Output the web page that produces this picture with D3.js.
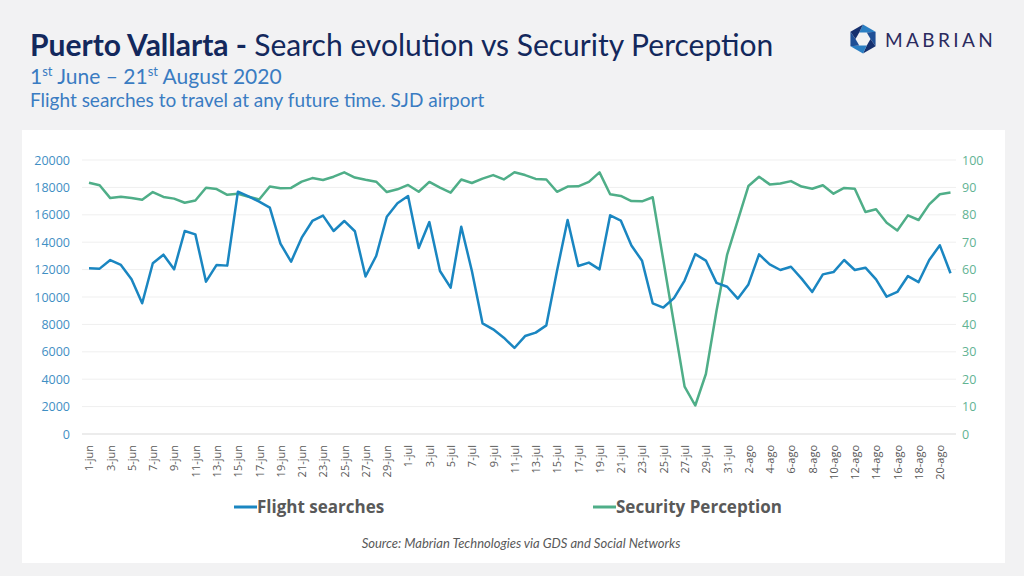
<!DOCTYPE html>
<html>
<head>
<meta charset="utf-8">
<script src="https://cdn.jsdelivr.net/npm/d3@7"></script>
<style>
  html, body { margin: 0; padding: 0; background: #f2f2f3; }
  svg { display: block; }
</style>
</head>
<body>
<div id="chart"></div>
<script>
// Day labels, 1 June - 21 August 2020 (Spanish month abbreviations)
const monthNames = ["jun", "jul", "ago"]
const monthDays = [30, 31, 21]
const days = []
monthDays.forEach((n, m) => {
  for (let d = 1; d <= n; d++) days.push(`${d}-${monthNames[m]}`)
})

const flightSearches = [
  12090, 12070, 12700, 12340, 11290, 9540, 12460, 13090, 12020, 14820,
  14570, 11120, 12340, 12290, 17690, 17350, 16960, 16520, 13890, 12580,
  14330, 15550, 15940, 14820, 15550, 14800, 11500, 12990, 15860, 16840,
  17370, 13580, 15470, 11900, 10680, 15130, 11900, 8080, 7640, 7030,
  6280, 7150, 7400, 7930, 11900, 15620, 12260, 12510, 12020, 15960,
  15580, 13760, 12640, 9540, 9230, 9920, 11200, 13130, 12660, 11030,
  10750, 9880, 10920, 13110, 12380, 11970, 12210, 11340, 10370, 11650,
  11820, 12700, 11970, 12140, 11290, 10020, 10370, 11530, 11090, 12700,
  13770, 11730
]

const securityPerception = [
  91.7, 90.8, 86.1, 86.6, 86.1, 85.5, 88.3, 86.5, 85.9, 84.4,
  85.2, 89.9, 89.4, 87.3, 87.7, 86.6, 85.6, 90.3, 89.7, 89.8,
  92.1, 93.4, 92.7, 93.9, 95.5, 93.6, 92.8, 92.1, 88.3, 89.3,
  90.9, 88.4, 92.0, 89.9, 88.1, 92.9, 91.6, 93.2, 94.5, 92.9,
  95.5, 94.5, 93.1, 92.9, 88.4, 90.3, 90.4, 92.0, 95.5, 87.5,
  86.9, 85.0, 84.9, 86.4, 63.4, 40.3, 17.3, 10.4, 21.9, 45.0,
  65.5, 78.0, 90.5, 93.9, 91.1, 91.4, 92.3, 90.3, 89.5, 90.8,
  87.7, 89.8, 89.5, 81.0, 82.0, 77.1, 74.3, 79.8, 78.1, 83.8,
  87.5, 88.1
]

const leftTicks = [0, 2000, 4000, 6000, 8000, 10000, 12000, 14000, 16000, 18000, 20000]
const rightTicks = [0, 10, 20, 30, 40, 50, 60, 70, 80, 90, 100]

const width = 1024
const height = 576
const blue = "#1a86c1"
const green = "#4fae88"

const svg = d3.select("#chart")
  .append("svg")
  .attr("width", width)
  .attr("height", height)

svg.append("rect")
  .attr("width", width)
  .attr("height", height)
  .attr("fill", "#f2f2f3")

// white panel
svg.append("rect")
  .attr("x", 22)
  .attr("y", 130)
  .attr("width", 983)
  .attr("height", 433)
  .attr("fill", "#ffffff")

// Titles
const title = svg.append("text")
  .attr("x", 30)
  .attr("y", 56)
  .attr("font-family", "Lato, sans-serif")
  .attr("font-size", 30)
  .attr("fill", "#13285c")
title.append("tspan").attr("font-weight", "bold").text("Puerto Vallarta - ")
title.append("tspan").text("Search evolution vs Security Perception")

const sub = svg.append("text")
  .attr("x", 30)
  .attr("y", 84)
  .attr("font-family", "Lato, sans-serif")
  .attr("font-size", 21)
  .attr("fill", "#3a7cc2")
sub.append("tspan").text("1")
sub.append("tspan").attr("font-size", 13).attr("dy", -8).text("st")
sub.append("tspan").attr("dy", 8).text(" June – 21")
sub.append("tspan").attr("font-size", 13).attr("dy", -8).text("st")
sub.append("tspan").attr("dy", 8).text(" August 2020")

svg.append("text")
  .attr("x", 30)
  .attr("y", 107)
  .attr("font-family", "Lato, sans-serif")
  .attr("font-size", 19)
  .attr("fill", "#3a7cc2")
  .text("Flight searches to travel at any future time. SJD airport")

// Logo: hexagon ring + wordmark
const logo = svg.append("g").attr("transform", "translate(863,39)")
const hexColors = ["#2b7fc3", "#1f4f96", "#16306e", "#2b7fc3", "#1f4f96", "#16306e"]
const outerR = 14.5
const innerR = 7.5
for (let k = 0; k < 6; k++) {
  const a0 = (Math.PI / 3) * k - Math.PI / 2
  const a1 = a0 + Math.PI / 3
  const b0 = a0 + Math.PI / 6
  const b1 = a1 + Math.PI / 6
  const pts = [
    [outerR * Math.cos(a0), outerR * Math.sin(a0)],
    [outerR * Math.cos(a1), outerR * Math.sin(a1)],
    [innerR * Math.cos(b1 - Math.PI / 3), innerR * Math.sin(b1 - Math.PI / 3)],
    [innerR * Math.cos(b0 - Math.PI / 3), innerR * Math.sin(b0 - Math.PI / 3)]
  ]
  logo.append("path")
    .attr("d", d3.line()(pts) + "Z")
    .attr("fill", hexColors[k])
}
svg.append("text")
  .attr("x", 885)
  .attr("y", 47)
  .attr("font-family", "Lato, sans-serif")
  .attr("font-size", 19)
  .attr("letter-spacing", 3.4)
  .attr("fill", "#2b2b5e")
  .text("MABRIAN")

// Scales
const x = d3.scaleLinear()
  .domain([0, days.length - 1])
  .range([89, 950.5])

const yLeft = d3.scaleLinear()
  .domain([0, 20000])
  .range([434, 160])

const yRight = d3.scaleLinear()
  .domain([0, 100])
  .range([434, 160])

// Gridlines
svg.append("g")
  .selectAll("line")
  .data(leftTicks.slice(1))
  .join("line")
  .attr("x1", 82)
  .attr("x2", 956)
  .attr("y1", d => yLeft(d))
  .attr("y2", d => yLeft(d))
  .attr("stroke", "#efefef")
  .attr("stroke-width", 1)

// Left axis
const leftAxis = svg.append("g")
  .attr("transform", "translate(70,0)")
  .call(d3.axisLeft(yLeft).tickValues(leftTicks).tickFormat(d3.format("d")).tickSize(0).tickPadding(0))
leftAxis.select(".domain").remove()
leftAxis.selectAll("text")
  .attr("font-family", "'Open Sans', sans-serif")
  .attr("font-size", 12.5)
  .attr("fill", "#3f8fc4")

// Right axis
const rightAxis = svg.append("g")
  .attr("transform", "translate(962,0)")
  .call(d3.axisRight(yRight).tickValues(rightTicks).tickSize(0).tickPadding(0))
rightAxis.select(".domain").remove()
rightAxis.selectAll("text")
  .attr("font-family", "'Open Sans', sans-serif")
  .attr("font-size", 12.5)
  .attr("fill", "#62b393")

// Bottom axis, every other day
const xAxis = svg.append("g")
  .attr("transform", "translate(0,434)")
  .call(d3.axisBottom(x)
    .tickValues(d3.range(0, days.length, 2))
    .tickFormat(i => days[i])
    .tickSize(0))
xAxis.select(".domain")
  .attr("d", "M82,0H956")
  .attr("stroke", "#d9d9d9")
  .attr("stroke-width", 1.2)
xAxis.selectAll("text")
  .attr("font-family", "'Open Sans', sans-serif")
  .attr("font-size", 11)
  .attr("fill", "#595959")
  .attr("text-anchor", "end")
  .attr("dy", "0.35em")
  .attr("transform", "translate(0,11) rotate(-90)")
  .attr("y", 0)

// Lines
const searchLine = d3.line()
  .x((d, i) => x(i))
  .y(d => yLeft(d))

const securityLine = d3.line()
  .x((d, i) => x(i))
  .y(d => yRight(d))

svg.append("path")
  .datum(securityPerception)
  .attr("d", securityLine)
  .attr("fill", "none")
  .attr("stroke", green)
  .attr("stroke-width", 2.5)
  .attr("stroke-linejoin", "round")

svg.append("path")
  .datum(flightSearches)
  .attr("d", searchLine)
  .attr("fill", "none")
  .attr("stroke", blue)
  .attr("stroke-width", 2.5)
  .attr("stroke-linejoin", "round")

// Legend
const legendItems = [
  { label: "Flight searches", color: blue, x: 234 },
  { label: "Security Perception", color: green, x: 593 }
]
legendItems.forEach(item => {
  svg.append("line")
    .attr("x1", item.x)
    .attr("x2", item.x + 23)
    .attr("y1", 507)
    .attr("y2", 507)
    .attr("stroke", item.color)
    .attr("stroke-width", 3)
  svg.append("text")
    .attr("x", item.x + 23)
    .attr("y", 513)
    .attr("font-family", "'Open Sans', sans-serif")
    .attr("font-weight", "bold")
    .attr("font-size", 17)
    .attr("fill", "#595959")
    .text(item.label)
})

// Source
svg.append("text")
  .attr("x", 521)
  .attr("y", 548)
  .attr("text-anchor", "middle")
  .attr("font-family", "Lato, sans-serif")
  .attr("font-style", "italic")
  .attr("font-size", 13)
  .attr("fill", "#595959")
  .text("Source: Mabrian Technologies via GDS and Social Networks")
</script>
</body>
</html>
